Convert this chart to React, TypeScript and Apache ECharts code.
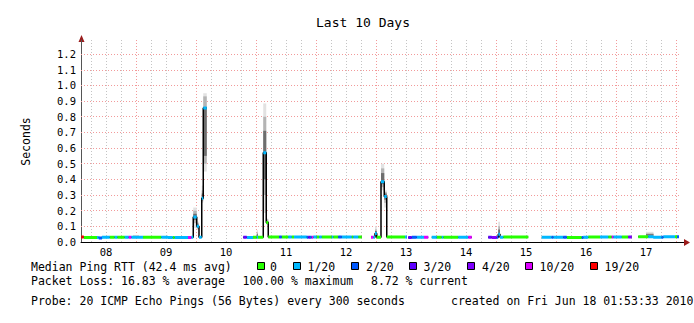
import React, { useEffect, useRef } from 'react';
import * as echarts from 'echarts';

// Loss levels (legend) and their colours
const LOSS_LABELS = ['0', '1/20', '2/20', '3/20', '4/20', '10/20', '19/20'];
const LOSS_COLORS = ['#26ff00', '#00b8ff', '#0059ff', '#5e00ff', '#7e00ff', '#dd00ff', '#ff0000'];

// X axis: hours since Jun 08 00:00; day labels at noon of each day
const X_MIN = 2;
const X_MAX = 242;
const DAY_LABELS = ['08', '09', '10', '11', '12', '13', '14', '15', '16', '17'];
const Y_TICKS = [0, 0.1, 0.2, 0.3, 0.4, 0.5, 0.6, 0.7, 0.8, 0.9, 1.0, 1.1, 1.2];
const Y_MAX = 1.29;

// Median RTT segments: [startHour, endHour, seconds, lossLevelIndex]
const MEDIAN_SEGMENTS: number[][] = [
  [2.1, 3.1, 0.032, 6],
  [3.1, 8.4, 0.028, 0],
  [8.4, 9.1, 0.028, 1],
  [9.1, 10.4, 0.026, 2],
  [10.4, 13.5, 0.031, 1],
  [13.5, 15.5, 0.031, 0],
  [15.5, 16.5, 0.031, 1],
  [16.5, 19.5, 0.031, 0],
  [19.5, 21.1, 0.031, 1],
  [21.1, 22.1, 0.031, 5],
  [22.1, 26.8, 0.031, 1],
  [26.8, 34.1, 0.031, 0],
  [34.1, 36.8, 0.031, 1],
  [36.8, 38.7, 0.028, 1],
  [38.7, 39.5, 0.028, 0],
  [39.5, 44.8, 0.029, 1],
  [44.8, 46.1, 0.029, 5],
  [46.1, 46.9, 0.031, 1],
  [46.9, 48.3, 0.16, 1],
  [48.3, 49.2, 0.1, 1],
  [49.2, 50.3, 0.03, 1],
  [50.3, 50.9, 0.28, 1],
  [50.9, 52.3, 0.855, 1],
  [66.9, 68.3, 0.03, 3],
  [68.3, 70.8, 0.028, 1],
  [70.8, 72.3, 0.03, 0],
  [72.3, 72.8, 0.03, 1],
  [72.8, 74.9, 0.03, 0],
  [74.9, 76.1, 0.57, 1],
  [76.1, 76.9, 0.125, 0],
  [76.9, 81.3, 0.032, 0],
  [81.3, 82.3, 0.032, 2],
  [82.3, 84.9, 0.032, 0],
  [84.9, 86.3, 0.032, 1],
  [86.3, 87.2, 0.032, 0],
  [87.2, 92.3, 0.032, 1],
  [92.3, 92.9, 0.03, 2],
  [92.9, 93.6, 0.03, 3],
  [93.6, 94.3, 0.03, 2],
  [94.3, 94.9, 0.03, 5],
  [94.9, 96.3, 0.032, 1],
  [96.3, 97.3, 0.032, 0],
  [97.3, 98.3, 0.032, 1],
  [98.3, 102.3, 0.032, 0],
  [102.3, 102.9, 0.032, 1],
  [102.9, 104.9, 0.032, 0],
  [104.9, 106.3, 0.032, 2],
  [106.3, 110.3, 0.032, 1],
  [110.3, 110.9, 0.032, 0],
  [110.9, 112.9, 0.032, 1],
  [112.9, 114.3, 0.032, 0],
  [118, 118.9, 0.03, 5],
  [118.9, 119.6, 0.03, 1],
  [119.6, 120.3, 0.055, 1],
  [120.3, 122, 0.03, 0],
  [122, 123.3, 0.385, 1],
  [123.3, 124.3, 0.29, 1],
  [124.3, 131.6, 0.032, 0],
  [131.6, 132.3, 0.032, 1],
  [132.9, 134.3, 0.028, 3],
  [134.3, 136.3, 0.03, 2],
  [136.3, 139.2, 0.03, 1],
  [139.2, 140.9, 0.03, 5],
  [142.3, 144.3, 0.03, 1],
  [144.3, 146.3, 0.03, 0],
  [146.3, 146.9, 0.03, 1],
  [146.9, 152.9, 0.03, 0],
  [152.9, 156.9, 0.03, 1],
  [156.9, 158.3, 0.03, 5],
  [164.9, 166.3, 0.03, 3],
  [166.3, 168.3, 0.028, 4],
  [168.3, 168.9, 0.03, 2],
  [168.9, 169.6, 0.05, 1],
  [169.6, 170.9, 0.03, 1],
  [170.9, 180.9, 0.032, 0],
  [186.3, 190.3, 0.03, 1],
  [190.3, 190.9, 0.03, 2],
  [190.9, 194.9, 0.03, 1],
  [194.9, 196.3, 0.03, 2],
  [196.3, 202.3, 0.028, 0],
  [202.3, 202.9, 0.028, 2],
  [202.9, 204.9, 0.03, 1],
  [204.9, 209.6, 0.032, 0],
  [209.6, 212.9, 0.032, 1],
  [212.9, 214.3, 0.032, 0],
  [214.3, 214.9, 0.032, 5],
  [214.9, 218.3, 0.032, 1],
  [218.3, 220.9, 0.032, 0],
  [220.9, 222.3, 0.032, 4],
  [224.9, 228.9, 0.033, 0],
  [228.9, 230.9, 0.033, 1],
  [230.9, 234.3, 0.03, 1],
  [234.3, 234.9, 0.03, 2],
  [234.9, 239.6, 0.033, 1],
  [239.6, 240.4, 0.033, 0],
  [240.4, 241.2, 0.033, 2],
];

// Smoke bands: [startHour, endHour, outerLo, outerHi, midLo, midHi, coreLo, coreHi]
const SMOKE: number[][] = [
  [22.8, 25.2, 0.03, 0.045, 0.032, 0.04, 0.033, 0.037],
  [46.9, 48.3, 0.09, 0.22, 0.12, 0.2, 0.14, 0.18],
  [48.3, 49.2, 0.077, 0.13, 0.085, 0.12, 0.09, 0.11],
  [50.3, 50.9, 0.25, 0.36, 0.26, 0.33, 0.27, 0.31],
  [50.9, 52.3, 0.45, 0.95, 0.5, 0.93, 0.55, 0.85],
  [72.3, 72.8, 0.03, 0.075, 0.035, 0.06, 0.04, 0.05],
  [74.9, 76.1, 0.185, 0.885, 0.3, 0.8, 0.4, 0.71],
  [76.1, 76.9, 0.11, 0.15, 0.115, 0.145, 0.12, 0.135],
  [119.6, 120.3, 0.04, 0.1, 0.045, 0.08, 0.05, 0.07],
  [122, 123.3, 0.33, 0.5, 0.35, 0.47, 0.37, 0.44],
  [123.3, 124.3, 0.22, 0.33, 0.25, 0.32, 0.27, 0.31],
  [168.9, 169.6, 0.04, 0.13, 0.045, 0.1, 0.05, 0.08],
  [228, 231, 0.035, 0.065, 0.04, 0.055, 0.04, 0.05],
];

const SMOKE_SHADES = ['#e2e2e2', '#b4b4b4', '#6e6e6e'];

const MONO = '"DejaVu Sans Mono", monospace';
const MAJOR_GRID = '#f29a9a';
const MINOR_GRID = '#c4c4c4';

function buildOption() {
  const gridLines: any[] = [];
  for (let h = 6; h < X_MAX; h += 6) {
    gridLines.push({
      xAxis: h,
      lineStyle: { color: h % 24 === 0 ? MAJOR_GRID : MINOR_GRID, type: [1, 2], width: 1 },
    });
  }
  Y_TICKS.slice(1).forEach((v) =>
    gridLines.push({ yAxis: v, lineStyle: { color: MAJOR_GRID, type: [1, 2], width: 1 } })
  );

  const blackData: any[] = [];
  MEDIAN_SEGMENTS.forEach(([s, e, v], idx) => {
    const prev = MEDIAN_SEGMENTS[idx - 1];
    if (prev && s - prev[1] > 0.05) blackData.push([(s + prev[1]) / 2, '-']);
    blackData.push([s, v], [e, v]);
  });

  const lossSeries = LOSS_LABELS.map((name, i) => {
    const data: any[] = [];
    MEDIAN_SEGMENTS.forEach(([s, e, v, l]) => {
      if (l === i) data.push([s, v], [e, v], [e, '-']);
    });
    return {
      name,
      type: 'line',
      data,
      showSymbol: false,
      symbol: 'none',
      connectNulls: false,
      z: 7,
      lineStyle: { color: LOSS_COLORS[i], width: 3, cap: 'butt' },
      silent: true,
    };
  });

  const legendGraphics: any[] = [];
  const boxX = [257.5, 293.5, 351.5, 409.5, 467.5, 525.5, 590.5];
  const txtX = [270, 307.5, 366, 423.5, 482, 539.5, 604.5];
  LOSS_LABELS.forEach((lab, i) => {
    legendGraphics.push({
      type: 'rect',
      shape: { x: boxX[i], y: 262.5, width: 7, height: 7 },
      style: { fill: LOSS_COLORS[i], stroke: '#000', lineWidth: 1 },
    });
    legendGraphics.push({
      type: 'text',
      x: txtX[i],
      y: 266.5,
      style: { text: lab, fontFamily: MONO, fontSize: 11.5, fill: '#000', verticalAlign: 'middle' },
    });
  });

  const textItem = (text: string, x: number, y: number) => ({
    type: 'text',
    x,
    y,
    style: { text, fontFamily: MONO, fontSize: 11.5, fill: '#000', verticalAlign: 'middle' },
  });

  return {
    animation: false,
    backgroundColor: '#ffffff',
    grid: { left: 81, right: 13, top: 40, bottom: 81 },
    xAxis: {
      type: 'value',
      min: X_MIN,
      max: X_MAX,
      axisLine: { show: true, lineStyle: { color: '#000', width: 1 } },
      axisTick: { show: false },
      splitLine: { show: false },
      axisLabel: {
        customValues: DAY_LABELS.map((_, i) => 12 + 24 * i),
        formatter: (v: number) => DAY_LABELS[Math.round((v - 12) / 24)] ?? '',
        fontFamily: MONO,
        fontSize: 10.5,
        color: '#000',
        margin: 4,
      },
    },
    yAxis: {
      type: 'value',
      min: 0,
      max: Y_MAX,
      axisLine: { show: true, lineStyle: { color: '#555', width: 1 } },
      axisTick: { show: false },
      splitLine: { show: false },
      axisLabel: {
        customValues: Y_TICKS,
        formatter: (v: number) => v.toFixed(1),
        fontFamily: MONO,
        fontSize: 10.5,
        color: '#000',
        margin: 5,
      },
    },
    graphic: [
      {
        type: 'text',
        x: 363,
        y: 22,
        style: { text: 'Last 10 Days', fontFamily: MONO, fontSize: 13, fill: '#000', align: 'center', verticalAlign: 'middle' },
      },
      {
        type: 'text',
        x: 26,
        y: 141.5,
        rotation: Math.PI / 2,
        style: { text: 'Seconds', fontFamily: MONO, fontSize: 11.5, fill: '#000', align: 'center', verticalAlign: 'middle' },
      },
      { type: 'line', shape: { x1: 681, y1: 242.5, x2: 685, y2: 242.5 }, style: { stroke: '#000', lineWidth: 1 } },
      { type: 'polygon', shape: { points: [[81.5, 35], [78.5, 42], [84.5, 42]] }, style: { fill: '#9b1c1c' } },
      { type: 'polygon', shape: { points: [[690, 242.5], [684, 239], [684, 246]] }, style: { fill: '#9b1c1c' } },
      textItem('Median Ping RTT (42.4 ms avg)', 31, 266.5),
      ...legendGraphics,
      textItem('Packet Loss: 16.83 % average', 31, 281),
      textItem('100.00 % maximum', 242.5, 281),
      textItem('8.72 % current', 371, 281),
      textItem('Probe: 20 ICMP Echo Pings (56 Bytes) every 300 seconds', 31, 301),
      textItem('created on Fri Jun 18 01:53:33 2010', 451, 301),
    ],
    series: [
      {
        type: 'line',
        data: [],
        z: 1,
        silent: true,
        markLine: {
          silent: true,
          z: 1,
          symbol: ['none', 'none'],
          label: { show: false },
          emphasis: { disabled: true },
          data: gridLines,
        },
      },
      {
        type: 'custom',
        z: 5,
        silent: true,
        data: SMOKE,
        encode: { x: [0, 1], y: [2, 3, 4, 5, 6, 7] },
        renderItem: (params: any, api: any) => {
          const t0 = api.value(0);
          const t1 = api.value(1);
          const children = SMOKE_SHADES.map((fill, k) => {
            const p0 = api.coord([t0, api.value(3 + 2 * k)]);
            const p1 = api.coord([t1, api.value(2 + 2 * k)]);
            return {
              type: 'rect',
              shape: { x: p0[0], y: p0[1], width: p1[0] - p0[0], height: p1[1] - p0[1] },
              style: { fill },
            };
          });
          return { type: 'group', children };
        },
      },
      {
        type: 'line',
        data: blackData,
        showSymbol: false,
        symbol: 'none',
        connectNulls: false,
        z: 6,
        silent: true,
        lineStyle: { color: '#000', width: 1.5 },
      },
      ...lossSeries,
    ],
  };
}

export default function App() {
  const ref = useRef<HTMLDivElement>(null);
  useEffect(() => {
    if (!ref.current) return;
    const chart = echarts.init(ref.current, null, { renderer: 'svg' });
    chart.setOption(buildOption() as any);
    return () => chart.dispose();
  }, []);
  return (
    <div
      ref={ref}
      style={{ position: 'fixed', left: 0, top: 0, width: 694, height: 323, background: '#fff' }}
    />
  );
}
